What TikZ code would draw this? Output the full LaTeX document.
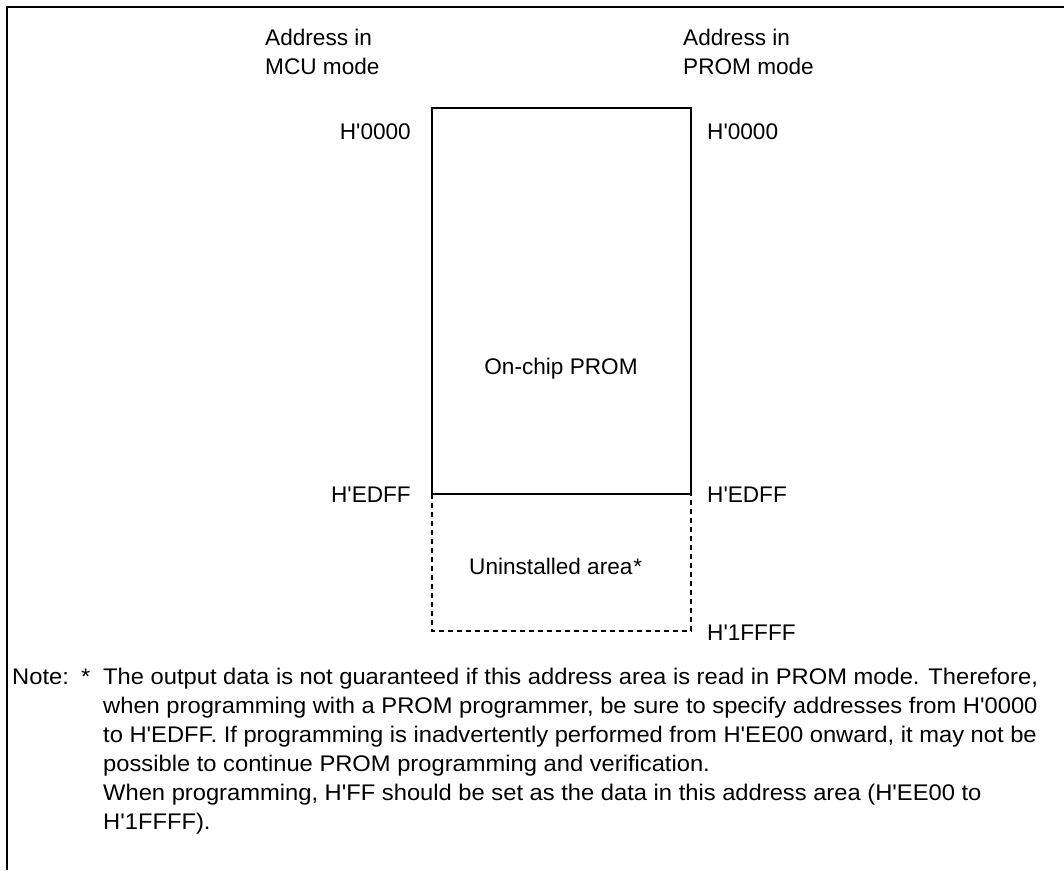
\documentclass[tikz,border=0pt]{standalone}
\usepackage{fontspec}
\setmainfont{Liberation Sans}[Ligatures=TeXOff]
\newfontfamily\notefont{Liberation Sans}[Ligatures=TeXOff,FakeStretch=1.05]
\begin{document}
\begin{tikzpicture}[x=1pt,y=-1pt,
  lbl/.style={inner sep=0pt,anchor=base west,font=\fontsize{22.6}{29}\selectfont},
  lblr/.style={lbl,anchor=base east},
  lblc/.style={lbl,anchor=base},
  notelbl/.style={lbl,font=\notefont\fontsize{22.6}{29}\selectfont},
  frameline/.style={line width=2pt},
  boxline/.style={line width=2pt},
  dashline/.style={line width=2pt,dash pattern=on 5pt off 4pt}]
\useasboundingbox (0,0) rectangle (1064,870);
% frame
\draw[frameline] (6.5,870) -- (6.5,6.5) -- (1064,6.5);
% memory map
\coordinate (tl) at (431.5,107.5);
\coordinate (tr) at (690.5,107.5);
\coordinate (ml) at (431.5,494);
\coordinate (mr) at (690.5,494);
\coordinate (bl) at (431.5,631);
\coordinate (br) at (690.5,631);
\draw[boxline] (ml) -- (tl) -- (tr) -- (mr) -- cycle;
\draw[dashline] (ml) -- (bl) -- (br) -- (mr);
% labels
\node[lbl] (a1) at (265,45) {Address in};
\node[lbl] (a2) at (265,74) {MCU mode};
\node[lbl] (b1) at (683,45) {Address in};
\node[lbl] (b2) at (683,74) {PROM mode};
\node[lblr] (l0) at (411,139) {H'0000};
\node[lbl] (r0) at (707,139) {H'0000};
\node[lblc] (prom) at (561,374) {On-chip PROM};
\node[lblr] (l1) at (411,502) {H'EDFF};
\node[lbl] (r1) at (707,502) {H'EDFF};
\node[lbl] (un) at (469,574) {Uninstalled area\kern1pt*};
\node[lbl] (r2) at (707,640) {H'1FFFF};
% note
\node[notelbl] (note) at (12,684) {Note:};
\node[notelbl] (star) at (81,684) {*};
\node[notelbl] (n1) at (103,684) {The output data is not guaranteed if this address area is read in PROM mode. Therefore,};
\node[notelbl] (n2) at (103,713) {when programming with a PROM programmer, be sure to specify addresses from H'0000};
\node[notelbl] (n3) at (103,742) {to H'EDFF. If programming is inadvertently performed from H'EE00 onward, it may not be};
\node[notelbl] (n4) at (103,771) {possible to continue PROM programming and verification.};
\node[notelbl] (n5) at (103,800) {When programming, H'FF should be set as the data in this address area (H'EE00 to};
\node[notelbl] (n6) at (103,829) {H'1FFFF).};
\end{tikzpicture}
\end{document}
